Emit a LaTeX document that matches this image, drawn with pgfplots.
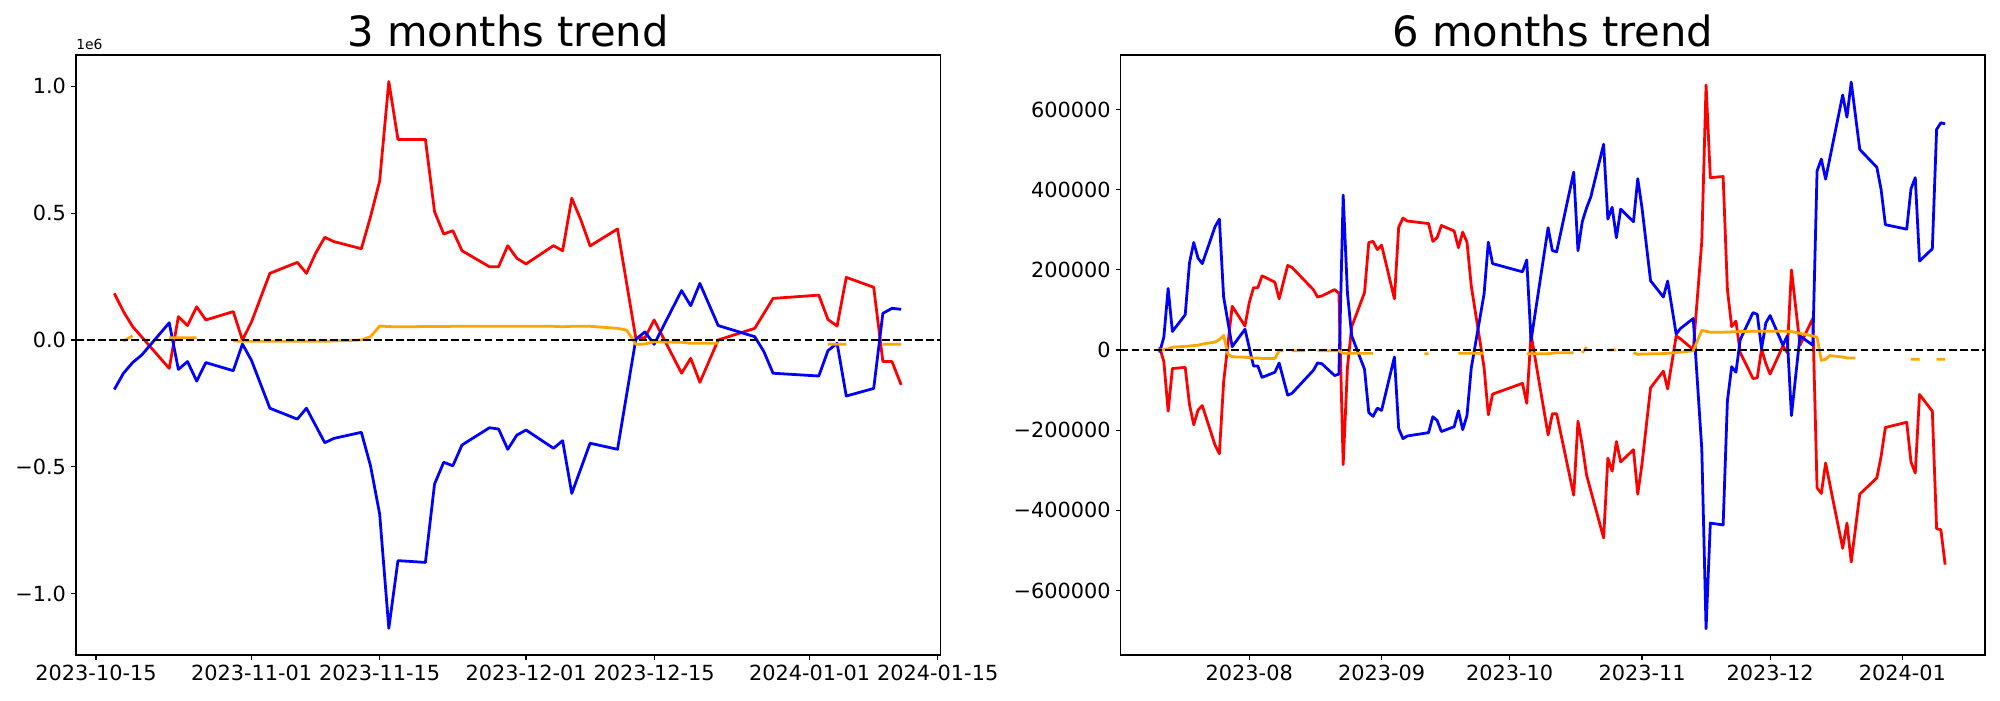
\documentclass[border=0pt]{standalone}
\usepackage{pgfplots}
\pgfplotsset{compat=1.18}
\usepackage{pgfplotstable}
\usepackage{fontspec}
\setmainfont{DejaVu Sans}
\definecolor{mplorange}{RGB}{255,165,0}

% LEFT: x = days since 2023-10-15
\pgfplotstableread{
d v
2 184000
3 112000
4 53000
5 12000
8 -112000
9 92000
10 57000
11 131000
12 79000
15 112000
16 0
17 72000
19 263000
22 306000
23 263000
24 342000
25 405000
26 388000
29 360000
30 486000
31 627000
32 1019000
33 791000
36 791000
37 506000
38 418000
39 431000
40 352000
43 289000
44 289000
45 372000
46 322000
47 300000
50 372000
51 352000
52 559000
53 473000
54 371000
57 438000
59 7000
60 9000
61 79000
64 -131000
65 -72000
66 -167000
68 0
72 46000
74 164000
79 177000
80 81000
81 55000
82 247000
85 208000
86 -85000
87 -85000
88 -177000
}\lred
\pgfplotstableread{
d v
2 -195000
3 -131000
4 -89000
5 -59000
8 68000
9 -116000
10 -85000
11 -162000
12 -89000
15 -121000
16 -16000
17 -81000
19 -269000
22 -312000
23 -269000
24 -337000
25 -405000
26 -388000
29 -364000
30 -496000
31 -686000
32 -1137000
33 -870000
36 -877000
37 -568000
38 -482000
39 -496000
40 -414000
43 -346000
44 -351000
45 -431000
46 -375000
47 -355000
50 -427000
51 -397000
52 -605000
53 -506000
54 -407000
57 -431000
59 3000
60 32000
61 -17000
64 195000
65 135000
66 223000
68 57000
72 13000
73 -46000
74 -131000
79 -142000
80 -42000
81 -13000
82 -221000
85 -191000
86 105000
87 125000
88 121000
}\lblue
\pgfplotstableread{
d v
3 -4000
4 16000
5 nan
8 9000
9 9000
10 9000
11 9000
12 nan
15 -4000
16 -5000
17 -5000
19 -5000
22 -5000
23 -5000
24 -5000
25 -5000
26 -4000
29 0
30 13000
31 55000
32 53000
33 52000
36 53000
37 53000
38 53000
39 54000
40 54000
43 54000
44 54000
45 54000
46 54000
47 54000
50 54000
51 52000
52 54000
53 54000
54 54000
57 46000
58 39000
59 -17000
60 -16000
61 -7000
64 -9000
65 -13000
66 -13000
68 -13000
72 nan
80 -17000
81 -17000
82 -17000
85 nan
86 -17000
87 -17000
88 -17000
}\lorange

% RIGHT: x = days since 2023-08-01
\pgfplotstableread{
d v
-21 7400
-20 -29600
-19 -152600
-18 -46200
-15 -43500
-14 -135900
-13 -186800
-12 -149800
-11 -138700
-8 -237700
-7 -258900
-6 -80000
-4 109100
-1 60100
0 118400
1 155400
2 155400
3 185000
6 169200
7 127600
9 210900
10 206200
15 150700
16 132200
17 135000
20 150700
21 141500
22 -285800
23 -43500
24 58300
27 143300
28 268200
29 271000
30 250600
31 261700
34 127600
35 306100
36 329200
37 321800
42 315400
43 271000
44 280200
45 310700
48 296900
49 255200
50 294100
51 269100
52 160000
55 -43500
56 -161800
57 -110100
64 -83200
65 -133200
66 39800
70 -211800
71 -159100
72 -159100
76 -362500
77 -177600
78 -237700
79 -311700
83 -468900
84 -270000
85 -302400
86 -228400
87 -279300
90 -248800
91 -359700
92 -283900
94 -94300
97 -52700
98 -97100
100 35100
101 28000
104 900
106 271000
107 661200
108 430000
111 432800
112 150700
113 58300
114 72100
115 -6500
118 -71200
119 -69400
120 2800
121 -34200
122 -60100
125 10200
126 -6500
127 199800
129 12000
132 78600
133 -344000
134 -357900
135 -282100
139 -494800
140 -431900
141 -529000
143 -359700
147 -319100
148 -265400
149 -193300
154 -180300
155 -279300
156 -307000
157 -111000
160 -152600
161 -445700
162 -448500
163 -535500
}\rred
\pgfplotstableread{
d v
-21 -6500
-20 32400
-19 153500
-18 46200
-15 87900
-14 217300
-13 268200
-12 229300
-11 215500
-8 308000
-7 326400
-6 132200
-4 8300
-1 51800
1 -39800
2 -39800
3 -68400
6 -55500
7 -32400
9 -112800
10 -108200
15 -50900
16 -32400
17 -34200
20 -63800
21 -60100
22 386600
23 141500
24 35100
27 -48100
28 -156300
29 -165500
30 -145200
31 -150700
34 -17600
35 -196100
36 -221000
37 -214600
42 -206200
43 -166500
44 -175700
45 -203500
48 -191400
49 -151700
50 -198800
51 -163700
52 -45300
55 139600
56 269100
57 215500
64 195100
65 224700
66 23100
70 305200
71 247800
72 245100
76 443900
77 247800
78 320000
79 354200
80 381900
83 513300
84 326500
85 356000
86 280200
87 351400
90 320000
91 427300
92 354200
94 172900
97 132200
98 172000
100 39800
101 53600
104 78600
106 -246900
107 -695500
108 -431900
111 -436500
112 -126700
113 -41600
114 -55500
115 25900
118 93400
119 88800
120 2800
121 67500
122 86000
125 12000
126 35100
127 -163700
129 35100
132 12000
133 446700
134 476300
135 426300
139 636300
140 580800
141 668600
143 500300
147 455900
148 400400
149 312600
154 301500
155 402300
156 430000
157 222000
160 252500
161 550300
162 566900
163 564100
}\rblue
\pgfplotstableread{
d v
-21 0
-20 900
-19 3000
-18 7000
-15 9200
-14 10000
-13 11000
-12 12000
-11 14800
-8 20000
-7 26000
-6 36000
-5 -10000
-4 -17000
-1 -18000
0 -19000
1 -20000
2 -20000
3 -21000
6 -21000
7 -2000
8 -2000
9 nan
10 -2000
13 -2000
14 nan
16 -2000
17 -2000
20 -2000
21 -2000
22 -8300
23 -8300
24 -8300
27 -8300
28 -8300
29 -8300
30 nan
41 -9200
42 -9200
43 nan
49 -8300
50 -8300
51 -8300
52 -8300
55 -8300
56 nan
65 -9200
66 -9200
70 -9200
71 -8000
72 -7000
76 -7000
77 nan
78 -7000
79 7000
80 nan
84 0
85 0
86 0
87 nan
90 -6500
91 -11000
92 -10000
97 -9000
100 -6500
104 -2000
106 49000
108 44400
111 44400
115 46000
120 47000
125 47000
127 46000
132 35000
133 32000
134 -26000
135 -23000
136 -14000
139 -17500
140 -20000
142 -20000
143 nan
155 -23000
157 -23000
158 nan
161 -23000
163 -23000
}\rorange

\pgfplotsset{
  mpl/.style={
    scale only axis, width=622.3pt, height=432pt,
    axis line style={line width=0.8pt},
    every tick/.style={line width=0.8pt, black},
    major tick length=3.5pt, tick align=outside, tick pos=left,
    minor tick num=0,
    scaled ticks=false,
    /pgf/number format/assume math mode=true,
    tick label style={font=\fontsize{15}{18}\selectfont},
    xticklabel style={anchor=north, inner sep=0pt, yshift=-3.5pt},
    yticklabel style={anchor=east, inner sep=0pt, xshift=-3.5pt},
    title style={at={(0.5,1)}, anchor=base, font=\fontsize{30}{36}\selectfont},
    unbounded coords=jump,
    clip mode=individual,
  },
  rl/.style={red, line width=2pt, line join=round},
  bl/.style={blue, line width=2pt, line join=round},
  ol/.style={mplorange, line width=2pt, line join=round},
  zl/.style={black, line width=1.5pt, dash pattern=on 5.55pt off 2.4pt},
}

\begin{document}
\begin{tikzpicture}
\path[use as bounding box] (0,0) rectangle (1440pt,504pt);
\begin{axis}[mpl, at={(54.72pt,32.4pt)}, anchor=south west,
  title={3 months trend},
  xmin=-2.19, xmax=92.28,
  ymin=-1242100, ymax=1123800,
  xtick={0,17,31,47,61,78,92},
  xticklabels={2023-10-15,2023-11-01,2023-11-15,2023-12-01,2023-12-15,2024-01-01,2024-01-15},
  ytick={-1000000,-500000,0,500000,1000000},
  yticklabels={−1.0,−0.5,0.0,0.5,1.0},
]
\addplot[rl] table[x=d,y=v] {\lred};
\addplot[bl] table[x=d,y=v] {\lblue};
\addplot[ol] table[x=d,y=v] {\lorange};
\addplot[zl] coordinates {(-2.19,0) (92.28,0)};
\node[anchor=base west, inner sep=0pt, font=\fontsize{10}{12}\selectfont] at (rel axis cs:0,1) [yshift=4pt] {1e6};
\end{axis}
\begin{axis}[mpl, at={(806.9pt,32.4pt)}, anchor=south west,
  title={6 months trend},
  xmin=-30.11, xmax=172.34,
  ymin=-761000, ymax=736000,
  xtick={0,31,61,92,122,153},
  xticklabels={2023-08,2023-09,2023-10,2023-11,2023-12,2024-01},
  ytick={-600000,-400000,-200000,0,200000,400000,600000},
  yticklabels={−600000,−400000,−200000,0,200000,400000,600000},
]
\addplot[rl] table[x=d,y=v] {\rred};
\addplot[bl] table[x=d,y=v] {\rblue};
\addplot[ol] table[x=d,y=v] {\rorange};
\addplot[zl] coordinates {(-30.11,0) (172.34,0)};
\end{axis}
\end{tikzpicture}
\end{document}
